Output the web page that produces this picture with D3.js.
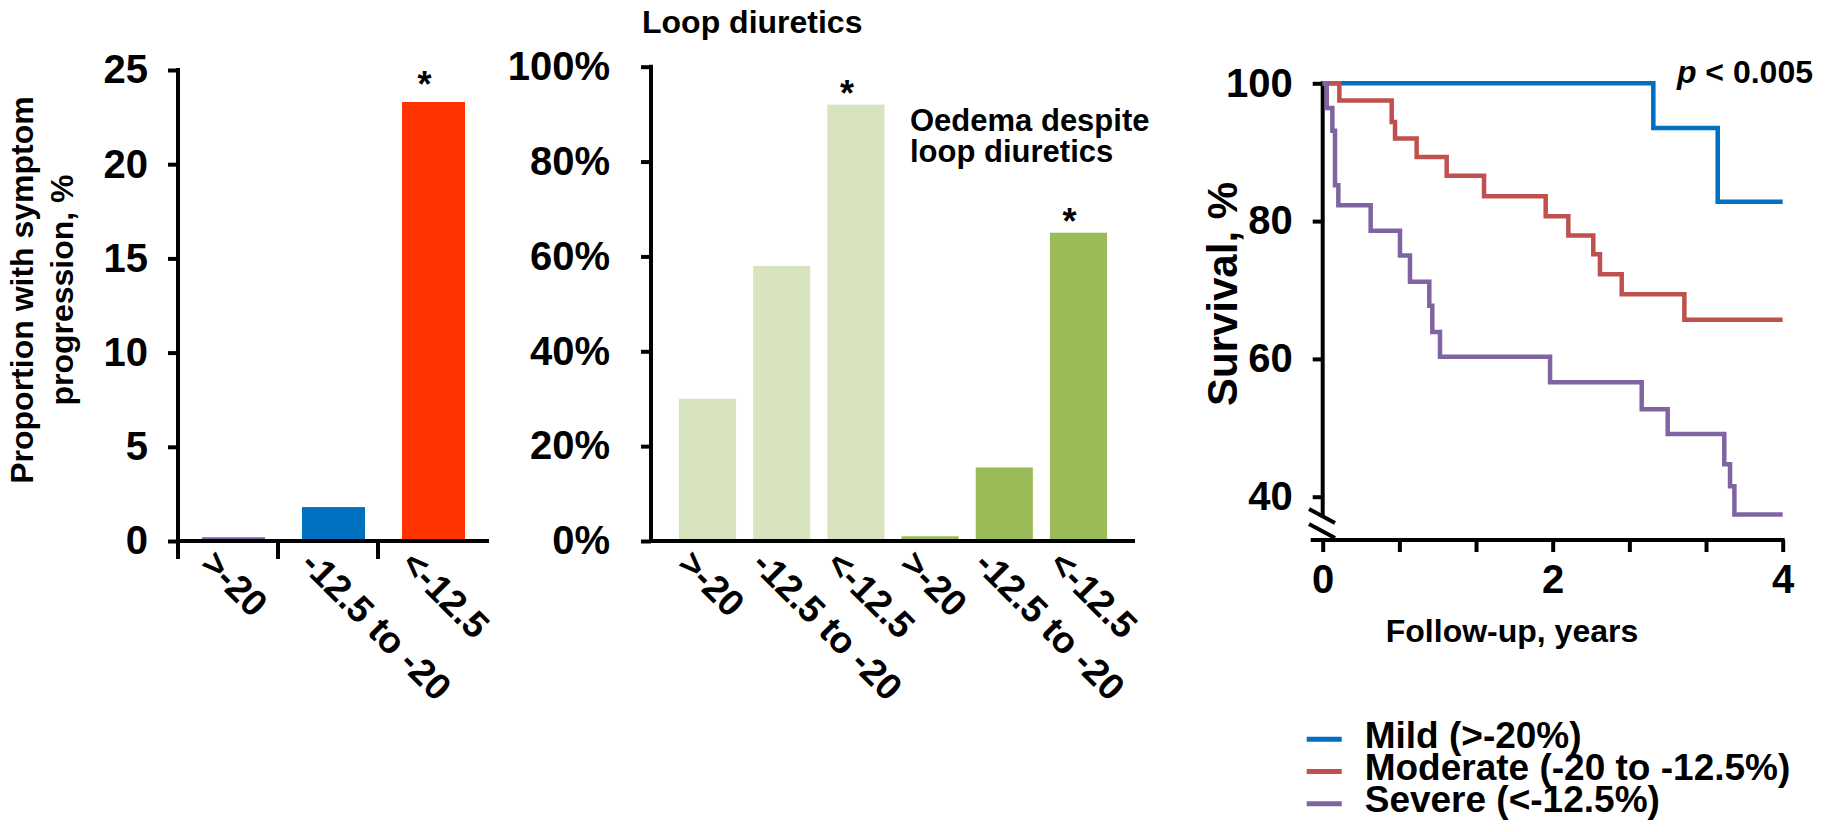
<!DOCTYPE html>
<html>
<head>
<meta charset="utf-8">
<script src="https://cdnjs.cloudflare.com/ajax/libs/d3/7.8.5/d3.min.js"></script>
<style>
    body { margin: 0; background: #fff; }
    svg text { font-family: "Liberation Sans", Arial, sans-serif; font-weight: bold; fill: #000; }
</style>
</head>
<body>
<div id="chart"></div>
<script>
// panel 1: symptom progression
var progCats = [">-20", "-12.5 to -20", "<-12.5"];
var progValues = [0.2, 1.8, 23.3];
var progStars = [false, false, true];
var progTicks = [0, 5, 10, 15, 20, 25];

// panel 2: loop diuretics / oedema despite loop diuretics
var loopCats = [">-20", "-12.5 to -20", "<-12.5"];
var loopValues = [30, 58, 92];
var loopStars = [false, false, true];
var oedemaValues = [1, 15.5, 65];
var oedemaStars = [false, false, true];
var pctTicks = [0, 20, 40, 60, 80, 100];

// panel 3: Kaplan-Meier survival (time in years, survival %)
var survTicks = [40, 60, 80, 100];
var yearTicks = [0, 2 / 3, 4 / 3, 2, 8 / 3, 10 / 3, 4];
var mildT = [0, 2.875, 3.435, 4];
var mildS = [100, 93.5, 82.8, 82.8];
var modT = [0, 0.145, 0.6, 0.629, 0.817, 1.078, 1.403, 1.939, 2.136, 2.353, 2.411, 2.6, 3.145, 4];
var modS = [100, 97.5, 94.4, 92.0, 89.3, 86.6, 83.6, 80.7, 77.9, 75.2, 72.3, 69.4, 65.7, 65.7];
var sevT = [0, 0.035, 0.084, 0.107, 0.136, 0.417, 0.672, 0.759, 0.927, 0.953, 1.02, 1.977, 2.774, 3.0, 3.492, 3.542, 3.58, 4];
var sevS = [100, 96.4, 93.1, 85.2, 82.3, 78.6, 75.0, 71.2, 67.7, 63.9, 60.3, 56.6, 52.7, 49.1, 44.7, 41.5, 37.4, 37.4];
var seriesNames = ["Mild (>-20%)", "Moderate (-20 to -12.5%)", "Severe (<-12.5%)"];

var progColors = ["#8064A2", "#0070C0", "#FF3300"];
var seriesColors = ["#0070C0", "#C0504D", "#8064A2"];
var lightGreen = "#D7E4BD", darkGreen = "#9BBB59";

var W = 1829, H = 832;
var axisW = 4;
var svg = d3.select("#chart").append("svg")
    .attr("width", W)
    .attr("height", H);
svg.append("rect").attr("width", W).attr("height", H).attr("fill", "#fff");

function styleAxis(g, size) {
    g.attr("font-family", null).attr("font-size", null);
    g.select(".domain").remove();
    g.selectAll(".tick line").attr("stroke", "#000").attr("stroke-width", axisW);
    g.selectAll(".tick text").style("font-size", size + "px");
}

function hline(g, xa, xb, y) {
    g.append("line").attr("x1", xa).attr("x2", xb).attr("y1", y).attr("y2", y)
        .attr("stroke", "#000").attr("stroke-width", axisW).attr("stroke-linecap", "square");
}
function vline(g, x, ya, yb) {
    g.append("line").attr("x1", x).attr("x2", x).attr("y1", ya).attr("y2", yb)
        .attr("stroke", "#000").attr("stroke-width", axisW).attr("stroke-linecap", "square");
}

function catLabels(g, data, x, y0) {
    g.selectAll(".cat-label")
        .data(data)
        .join("text")
        .attr("class", "cat-label")
        .attr("transform", d => `translate(${x(d.key) - 3},${y0 + 25}) rotate(45)`)
        .style("font-size", "37px")
        .text(d => d.cat);
}

// ---------- panel 1 ----------
var p1 = svg.append("g");
var prog = progCats.map((c, i) => ({ key: c, cat: c, value: progValues[i], star: progStars[i], color: progColors[i] }));
var x1 = d3.scaleBand().domain(progCats).range([178, 489]).paddingInner(0.37).paddingOuter(0.24);
var y1 = d3.scaleLinear().domain([0, 25]).range([541, 70]);

p1.selectAll(".bar").data(prog).join("rect")
    .attr("class", "bar")
    .attr("x", d => x1(d.key))
    .attr("width", x1.bandwidth())
    .attr("y", d => y1(d.value))
    .attr("height", d => y1(0) - y1(d.value))
    .attr("fill", d => d.color);

p1.append("g").attr("transform", "translate(178,0)")
    .call(d3.axisLeft(y1).tickValues(progTicks).tickSize(10).tickPadding(20))
    .call(g => styleAxis(g, 40));
vline(p1, 178, y1(25), y1(0));
hline(p1, 178, 487, y1(0));
p1.selectAll(".cat-tick").data(prog).join("line")
    .attr("class", "cat-tick")
    .attr("x1", d => x1(d.key) - x1.step() * x1.paddingOuter())
    .attr("x2", d => x1(d.key) - x1.step() * x1.paddingOuter())
    .attr("y1", y1(0)).attr("y2", y1(0) + 18)
    .attr("stroke", "#000").attr("stroke-width", axisW);
catLabels(p1, prog, x1, y1(0));

p1.selectAll(".star").data(prog.filter(d => d.star)).join("text")
    .attr("class", "star")
    .attr("x", d => x1(d.key) + x1.bandwidth() / 2 - 9)
    .attr("y", d => y1(d.value) - 5)
    .attr("text-anchor", "middle")
    .style("font-size", "36px")
    .text("*");

p1.append("text")
    .attr("transform", "translate(33,290) rotate(-90)")
    .attr("text-anchor", "middle")
    .style("font-size", "32px")
    .text("Proportion with symptom");
p1.append("text")
    .attr("transform", "translate(73,290) rotate(-90)")
    .attr("text-anchor", "middle")
    .style("font-size", "32px")
    .text("progression, %");

// ---------- panel 2 ----------
var p2 = svg.append("g");
var loop = loopCats.map((c, i) => ({ key: "L" + i, cat: c, value: loopValues[i], star: loopStars[i], color: lightGreen }))
    .concat(loopCats.map((c, i) => ({ key: "O" + i, cat: c, value: oedemaValues[i], star: oedemaStars[i], color: darkGreen })));
var x2 = d3.scaleBand().domain(loop.map(d => d.key)).range([651, 1135]).paddingInner(0.23).paddingOuter(0.377);
var y2 = d3.scaleLinear().domain([0, 100]).range([541, 66.7]);

p2.selectAll(".bar").data(loop).join("rect")
    .attr("class", "bar")
    .attr("x", d => x2(d.key))
    .attr("width", x2.bandwidth())
    .attr("y", d => y2(d.value))
    .attr("height", d => y2(0) - y2(d.value))
    .attr("fill", d => d.color);

p2.append("g").attr("transform", "translate(651,0)")
    .call(d3.axisLeft(y2).tickValues(pctTicks).tickSize(10).tickPadding(31).tickFormat(d => d + "%"))
    .call(g => styleAxis(g, 40));
vline(p2, 651, y2(100), y2(0));
hline(p2, 651, 1133, y2(0));
catLabels(p2, loop, x2, y2(0));

p2.selectAll(".star").data(loop.filter(d => d.star)).join("text")
    .attr("class", "star")
    .attr("x", d => x2(d.key) + x2.bandwidth() / 2 - 9)
    .attr("y", d => y2(d.value) + 1)
    .attr("text-anchor", "middle")
    .style("font-size", "36px")
    .text("*");

p2.append("text").attr("x", 642).attr("y", 33).style("font-size", "32px").text("Loop diuretics");
p2.append("text").attr("x", 910).attr("y", 131).style("font-size", "31px").text("Oedema despite");
p2.append("text").attr("x", 910).attr("y", 162).style("font-size", "31px").text("loop diuretics");

// ---------- panel 3 ----------
var p3 = svg.append("g");
var x3 = d3.scaleLinear().domain([0, 4]).range([1322.7, 1782.7]);
var y3 = d3.scaleLinear().domain([40, 100]).range([496.7, 83.3]);
var axisY = 540;

var series = [
    { name: seriesNames[0], color: seriesColors[0], pts: mildT.map((t, i) => [t, mildS[i]]) },
    { name: seriesNames[1], color: seriesColors[1], pts: modT.map((t, i) => [t, modS[i]]) },
    { name: seriesNames[2], color: seriesColors[2], pts: sevT.map((t, i) => [t, sevS[i]]) }
];
var line = d3.line().x(d => x3(d[0])).y(d => y3(d[1])).curve(d3.curveStepAfter);

p3.append("g").attr("transform", "translate(1322.7,0)")
    .call(d3.axisLeft(y3).tickValues(survTicks).tickSize(10).tickPadding(20))
    .call(g => styleAxis(g, 40));
p3.append("g").attr("transform", `translate(0,${axisY})`)
    .call(d3.axisBottom(x3).tickValues(yearTicks).tickSize(12).tickPadding(13)
        .tickFormat(d => Math.abs(d - Math.round(d)) < 1e-6 && Math.round(d) % 2 === 0 ? Math.round(d) : ""))
    .call(g => styleAxis(g, 40));
vline(p3, x3(0), y3(100), 515);
hline(p3, 1312.7, x3(4), axisY);
// axis break marks
p3.append("line").attr("x1", 1309).attr("y1", 509).attr("x2", 1335).attr("y2", 523)
    .attr("stroke", "#000").attr("stroke-width", axisW);
p3.append("line").attr("x1", 1309).attr("y1", 524).attr("x2", 1335).attr("y2", 538)
    .attr("stroke", "#000").attr("stroke-width", axisW);

p3.selectAll(".km").data(series).join("path")
    .attr("class", "km")
    .attr("d", d => line(d.pts))
    .attr("fill", "none")
    .attr("stroke", d => d.color)
    .attr("stroke-width", 4.5);

p3.append("text")
    .attr("transform", "translate(1237,294) rotate(-90)")
    .attr("text-anchor", "middle")
    .style("font-size", "42px")
    .text("Survival, %");
p3.append("text")
    .attr("x", 1512).attr("y", 642)
    .attr("text-anchor", "middle")
    .style("font-size", "32px")
    .text("Follow-up, years");
var pt = p3.append("text").attr("x", 1813).attr("y", 83).attr("text-anchor", "end").style("font-size", "32px");
pt.append("tspan").style("font-style", "italic").text("p");
pt.append("tspan").text(" < 0.005");

// legend
var leg = svg.append("g").attr("transform", "translate(1306.7,747.7)");
var legItem = leg.selectAll(".leg").data(series).join("g")
    .attr("class", "leg")
    .attr("transform", (d, i) => `translate(0,${i * 32.3})`);
legItem.append("line")
    .attr("x1", 0).attr("x2", 35).attr("y1", -8.5).attr("y2", -8.5)
    .attr("stroke", d => d.color).attr("stroke-width", 5);
legItem.append("text")
    .attr("x", 58)
    .style("font-size", "37px")
    .text(d => d.name);
</script>
</body>
</html>
